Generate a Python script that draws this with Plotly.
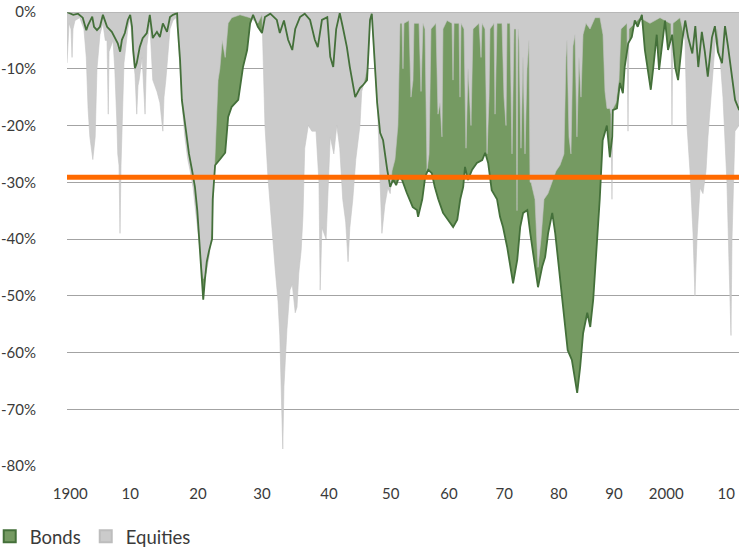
import plotly.graph_objects as go

# ---------------- data ----------------
bond_years = [1898.6, 1899.7, 1900.5, 1901.3, 1901.9, 1902.2, 1902.9, 1903.2, 1903.7, 1904.2,
              1904.7, 1905.4, 1906.2, 1906.7, 1907.2, 1907.6, 1907.9, 1908.4, 1908.9, 1909.3,
              1909.6, 1909.8, 1910.1, 1910.4, 1910.9, 1911.4, 1912.1, 1912.6, 1913.1, 1913.8,
              1914.3, 1914.8, 1915.5, 1916.0, 1916.5, 1917.2, 1917.3, 1917.7, 1918.0, 1918.7,
              1919.2, 1919.7, 1920.2, 1920.6, 1921.1, 1921.4, 1921.6, 1921.9, 1922.2, 1922.6,
              1923.1, 1923.2, 1923.6, 1924.4, 1925.3, 1925.8, 1926.4, 1927.5, 1928.3, 1929.0,
              1929.5, 1930.0, 1930.8, 1931.5, 1932.0, 1932.9, 1934.0, 1934.5, 1935.2, 1935.9,
              1936.6, 1937.1, 1937.9, 1938.7, 1939.6, 1940.4, 1940.9, 1941.6, 1942.5, 1943.0,
              1943.5, 1944.0, 1944.6, 1945.1, 1945.8, 1946.3, 1946.8, 1947.2, 1948.0, 1948.5,
              1949.2, 1949.4, 1949.7, 1950.0, 1950.2, 1950.5, 1950.9, 1951.4, 1951.9, 1952.6,
              1953.1, 1953.6, 1954.1, 1954.6, 1955.1, 1955.9, 1956.4, 1956.9, 1957.6, 1957.8,
              1958.5, 1959.0, 1959.5, 1960.1, 1960.6, 1961.2, 1962.0, 1962.8, 1963.7, 1964.4,
              1964.9, 1965.4, 1965.7, 1966.2, 1966.9, 1967.7, 1968.6, 1969.1, 1969.6, 1970.2,
              1971.1, 1971.6, 1972.1, 1972.8, 1973.3, 1973.8, 1974.5, 1975.0, 1975.5, 1976.2,
              1976.7, 1977.2, 1977.8, 1978.0, 1978.7, 1979.2, 1979.7, 1980.4, 1980.9, 1981.4,
              1982.0, 1982.5, 1983.0, 1983.7, 1984.2, 1984.6, 1985.1, 1985.6, 1986.3, 1986.8,
              1987.3, 1988.1, 1988.4, 1988.9, 1989.6, 1990.1, 1990.5, 1990.6, 1991.3, 1991.8,
              1992.3, 1992.6, 1993.2, 1993.8, 1994.3, 1994.8, 1995.5, 1996.0, 1996.5, 1997.0,
              1997.4, 1998.0, 1998.4, 1999.0, 1999.4, 1999.9, 2000.6, 2001.1, 2001.6, 2002.3,
              2002.8, 2003.3, 2004.0, 2004.5, 2005.0, 2005.6, 2006.1, 2006.6, 2007.3, 2007.8,
              2008.3, 2009.0, 2009.5, 2010.0, 2010.7, 2011.2, 2011.9]
bond_drawdown = [0, -0.5, -0.3, -1.0, -3.2, -2.3, -0.8, -2.6, -3.2, -2.6,
                 -0.5, -2.6, -3.5, -4.4, -5.5, -7.0, -4.9, -3.7, -1.4, -0.5,
                 -2.6, -6.7, -9.9, -9.0, -6.2, -4.6, -3.7, -0.5, -4.6, -3.5,
                 -4.4, -2.0, -3.5, -0.9, -0.5, -0.2, -2.6, -8.5, -15.5, -21.0,
                 -25.0, -27.8, -30.8, -35.0, -42.0, -47.0, -50.7, -47.0, -44.0, -42.0,
                 -40.0, -33.0, -27.0, -26.0, -24.8, -18.5, -16.7, -15.5, -9.7, -6.7,
                 -2.0, -0.5, -2.6, -3.7, -0.9, -0.3, -1.4, -3.7, -1.5, -4.9,
                 -6.7, -3.0, -0.9, -0.3, -1.4, -4.9, -6.2, -1.4, -0.9, -7.9,
                 -9.7, -3.0, -0.2, -2.6, -6.2, -9.7, -12.5, -15.0, -13.4, -12.9,
                 -12.0, -8.5, -1.4, -0.3, -3.7, -9.7, -16.0, -21.3, -22.6, -27.8,
                 -30.8, -29.5, -30.5, -29.0, -29.6, -31.9, -33.0, -34.4, -34.9, -36.1,
                 -33.0, -29.0, -27.8, -28.4, -30.8, -33.0, -35.4, -36.6, -37.9, -36.6,
                 -33.0, -30.8, -27.3, -29.6, -27.8, -26.6, -26.1, -24.8, -26.6, -31.4,
                 -33.0, -36.1, -37.9, -41.4, -44.9, -47.8, -43.7, -37.9, -35.4, -34.9,
                 -39.0, -42.5, -46.7, -48.5, -44.9, -43.2, -39.0, -35.4, -39.0, -43.7,
                 -49.5, -53.7, -59.6, -61.3, -64.3, -67.1, -62.6, -56.6, -53.0, -55.5,
                 -50.7, -39.0, -33.0, -22.6, -20.0, -25.6, -22.0, -17.3, -17.0, -12.5,
                 -14.3, -9.7, -5.5, -4.4, -1.5, -2.6, -0.5, -6.7, -10.2, -13.7,
                 -10.0, -4.0, -10.2, -5.0, -1.5, -6.7, -4.0, -9.7, -12.0, -5.0,
                 -1.5, -4.5, -7.3, -2.5, -9.7, -3.5, -7.0, -11.4, -4.5, -2.5,
                 -7.0, -9.0, -2.5, -6.0, -12.0, -15.5, -17.3]

equity_years = [1898.65, 1898.82, 1899.0, 1899.32, 1899.5, 1899.66, 1900.0, 1900.8, 1901.5, 1901.9,
                1902.2, 1902.5, 1903.0, 1903.4, 1903.7, 1904.2, 1904.7, 1905.1, 1905.39, 1905.6,
                1905.73, 1906.4, 1906.7, 1907.07, 1907.2, 1907.41, 1907.58, 1907.75, 1907.92, 1908.25,
                1908.9, 1909.3, 1909.8, 1910.1, 1910.4, 1910.61, 1910.8, 1911.3, 1911.8, 1911.96,
                1912.1, 1912.6, 1913.1, 1913.8, 1914.3, 1914.8, 1914.99, 1915.3, 1916.0, 1916.5,
                1917.0, 1917.3, 1917.7, 1918.0, 1918.5, 1919.0, 1919.4, 1919.9, 1920.2, 1920.6,
                1921.1, 1921.6, 1922.1, 1922.6, 1923.1, 1923.4, 1923.7, 1924.1, 1924.4, 1924.8,
                1925.3, 1925.8, 1926.4, 1927.8, 1929.5, 1930.8, 1931.5, 1932.0, 1932.5, 1933.2,
                1933.7, 1934.2, 1934.5, 1934.7, 1934.9, 1935.0, 1935.2, 1935.7, 1936.2, 1936.6,
                1937.1, 1937.4, 1937.7, 1938.1, 1938.4, 1938.7, 1939.3, 1939.9, 1940.6, 1941.1,
                1941.3, 1941.6, 1942.3, 1943.0, 1943.6, 1944.1, 1944.6, 1945.1, 1945.6, 1946.0,
                1946.3, 1946.8, 1947.3, 1948.0, 1948.3, 1948.8, 1949.4, 1949.7, 1950.0, 1950.5,
                1951.0, 1951.4, 1951.7, 1952.2, 1952.7, 1953.1, 1953.4, 1953.9, 1954.4, 1954.75,
                1955.08, 1955.25, 1955.42, 1956.26, 1956.60, 1956.94, 1957.11, 1957.95, 1958.29, 1958.62,
                1958.96, 1959.30, 1959.64, 1959.97, 1960.81, 1961.15, 1961.49, 1961.82, 1961.99, 1962.67,
                1963.51, 1963.68, 1963.85, 1964.69, 1964.86, 1965.03, 1965.53, 1965.87, 1966.21, 1966.71,
                1967.05, 1968.06, 1968.40, 1968.57, 1969.07, 1969.41, 1969.75, 1969.91, 1970.59, 1970.76,
                1971.09, 1971.93, 1972.27, 1972.61, 1972.78, 1973.28, 1973.62, 1973.96, 1974.29, 1974.46,
                1974.63, 1974.80, 1975.13, 1975.47, 1975.81, 1976.15, 1976.48, 1976.65, 1976.82, 1977.49,
                1978.00, 1978.50, 1979.01, 1979.68, 1980.35, 1981.03, 1981.70, 1982.37, 1982.71, 1982.88,
                1983.22, 1983.55, 1983.89, 1984.23, 1984.56, 1984.90, 1985.24, 1985.58, 1986.08, 1986.76,
                1987.60, 1988.44, 1988.95, 1989.28, 1989.62, 1990.12, 1990.29, 1990.46, 1990.63, 1991.14,
                1991.64, 1991.98, 1992.99, 1993.16, 1993.33, 1994.34, 1995.18, 1996.86, 1998.55, 2000.23,
                2000.40, 2000.57, 2000.74, 2001.92, 2002.76, 2003.10, 2003.60, 2004.11, 2004.44, 2004.78,
                2005.29, 2005.79, 2006.30, 2006.63, 2007.31, 2007.81, 2008.15, 2008.66, 2009.16, 2009.83,
                2010.17, 2010.51, 2010.68, 2011.18, 2011.86]
equity_drawdown = [-9, -4, -2, -3, -8, -3, -1.5, -1, -3, -8,
                   -17, -22, -26, -22, -10, -4, -2, -5, -5, -18,
                   -7, -5, -10, -20, -25, -27, -39, -27, -22, -9,
                   -3, -1, -8, -11, -18, -13, -12, -8, -18, -8,
                   -6, -2, -12, -14, -16, -21, -15, -12, -3, -1.5,
                   -1, -3, -9.7, -16, -22, -26, -28, -31, -34, -38,
                   -43, -47, -46, -43, -38, -30, -20, -12, -10, -5,
                   -8, -2, -1, -0.5, -1, -2, -0.5, -20, -29, -39,
                   -45, -51, -57, -65, -74, -77, -66, -56, -49, -48,
                   -53, -52, -46, -42, -36, -24, -20, -21, -21, -30,
                   -49, -38, -40, -22, -25, -20, -24, -33, -37, -44,
                   -38, -33, -26, -20, -14, -12, -9, -2, -1, -10,
                   -18, -30, -39, -34, -31, -32, -28, -26, -20, -2,
                   -2, -10, -2, -1.5, -15, -12, -2, -2, -14, -2,
                   -3, -28, -25, -3, -2, -18, -16, -22, -3, -1.5,
                   -2, -12, -2, -2, -15, -2, -3, -24, -10, -20,
                   -3, -2, -8, -2, -3, -25, -15, -3, -2, -18,
                   -2, -2, -15, -20, -2, -2, -25, -3, -3, -35,
                   -3, -5, -24, -8, -25, -10, -5, -30, -30, -33,
                   -45, -40, -33, -32, -30, -28, -27, -25, -8, -5,
                   -22, -25, -6, -4, -22, -8, -15, -4, -2, -3,
                   -1, -1, -4, -14, -17, -17, -18, -33, -17, -16,
                   -12, -3, -2, -21, -3, -2, -1, -2, -1, -2,
                   -2, -20, -2, -1, -5, -20, -28, -39, -50, -40,
                   -31, -32, -28, -22, -12.5, -6, -3, -8, -15, -30,
                   -44, -57, -40, -21, -20]

threshold = -29.1

tick_positions = [1899.2, 1909.3, 1920.7, 1931.5, 1942.8, 1953.2, 1963.0, 1972.3, 1981.5, 1990.8, 1999.6, 2009.7]
tick_labels = ["1900", "10", "20", "30", "40", "50", "60", "70", "80", "90", "2000", "10"]
y_ticks = [0, -10, -20, -30, -40, -50, -60, -70, -80]
y_labels = ["0%", "-10%", "-20%", "-30%", "-40%", "-50%", "-60%", "-70%", "-80%"]

# ---------------- styles ----------------
GREEN_FILL = "#759a62"
GREEN_LINE = "#44703a"
GRAY_FILL = "#cbcbcb"
ORANGE = "#ff6a00"
GRID = "#a3a3a3"
TEXT = "#3a3a3a"
FONT = "Lato, 'Liberation Sans', sans-serif"

fig = go.Figure()

fig.add_trace(go.Scatter(x=bond_years, y=bond_drawdown, mode="lines", fill="tozeroy",
                         fillcolor=GREEN_FILL, line=dict(width=0, color=GREEN_FILL),
                         showlegend=False, hoverinfo="skip"))
fig.add_trace(go.Scatter(x=equity_years, y=equity_drawdown, mode="lines", fill="tozeroy",
                         fillcolor=GRAY_FILL, line=dict(width=0.6, color="#c4c4c4"),
                         showlegend=False, hoverinfo="skip"))
fig.add_trace(go.Scatter(x=bond_years, y=bond_drawdown, mode="lines",
                         line=dict(width=1.8, color=GREEN_LINE),
                         showlegend=False, hoverinfo="skip"))

# legend entries
fig.add_trace(go.Bar(x=[None], y=[None], name="Bonds",
                     marker=dict(color=GREEN_FILL, line=dict(color=GREEN_LINE, width=1))))
fig.add_trace(go.Bar(x=[None], y=[None], name="Equities",
                     marker=dict(color=GRAY_FILL, line=dict(color="#bdbdbd", width=1))))

fig.add_shape(type="line", xref="paper", x0=0, x1=1, yref="y", y0=0, y1=0,
              line=dict(color=GRID, width=1.2), layer="above")
fig.add_shape(type="line", xref="paper", x0=0, x1=1, yref="y", y0=threshold, y1=threshold,
              line=dict(color=ORANGE, width=5), layer="above")

fig.update_layout(
    width=739, height=548,
    margin=dict(l=67, r=0, t=12, b=82, autoexpand=False),
    paper_bgcolor="white", plot_bgcolor="white",
    font=dict(family=FONT, size=15, color=TEXT),
    showlegend=True,
    legend=dict(orientation="h", x=-0.115, xanchor="left", y=-0.156, yanchor="middle",
                font=dict(size=18.5, color=TEXT), bgcolor="rgba(0,0,0,0)",
                itemsizing="constant"),
    xaxis=dict(range=[1898.65, 2011.86], tickmode="array", tickvals=tick_positions,
               ticktext=tick_labels, showgrid=False, zeroline=False, showline=False,
               ticks="", ticklabelstandoff=17, automargin=False,
               tickfont=dict(size=15, color=TEXT)),
    yaxis=dict(range=[-80, 0], tickmode="array", tickvals=y_ticks, ticktext=y_labels,
               showgrid=True, gridcolor=GRID, gridwidth=1, zeroline=False, showline=False,
               ticks="", ticklabelstandoff=30, automargin=False,
               tickfont=dict(size=15, color=TEXT)),
)

fig.write_html("out.html", config={"displayModeBar": False},
               post_script="document.body.style.margin='0';document.body.style.overflow='hidden';")
